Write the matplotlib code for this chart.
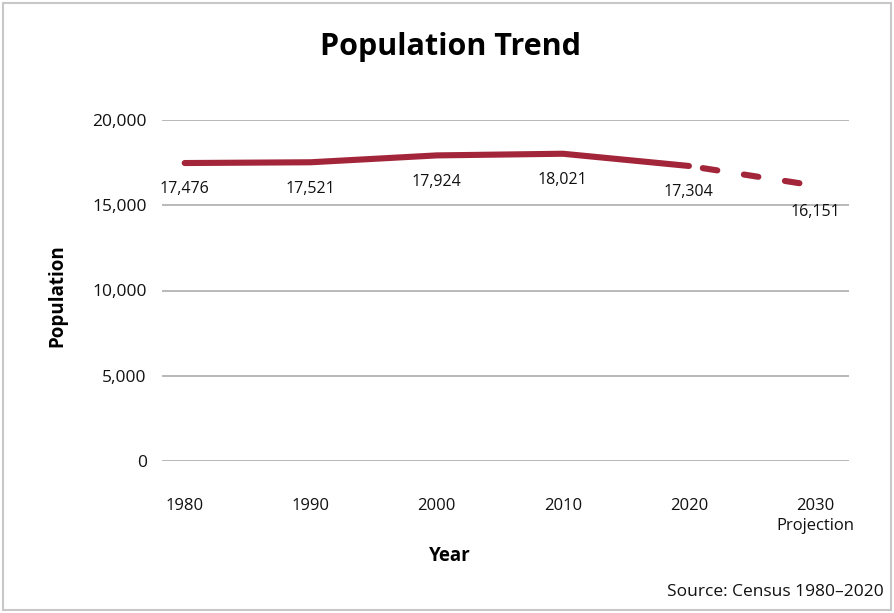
import matplotlib.pyplot as plt
from matplotlib.patches import Rectangle

years = ["1980", "1990", "2000", "2010", "2020", "2030\nProjection"]
population = [17476, 17521, 17924, 18021, 17304, 16151]
labels = ["17,476", "17,521", "17,924", "18,021", "17,304", "16,151"]
yticks = [0, 5000, 10000, 15000, 20000]
yticklabels = ["0", "5,000", "10,000", "15,000", "20,000"]

red = "#a3253a"
plt.rcParams["font.family"] = ["Open Sans", "DejaVu Sans"]

fig = plt.figure(figsize=(8.94, 6.13), dpi=100)
ax = fig.add_axes([162 / 894, 1 - 461 / 613, (849 - 162) / 894, (461 - 120) / 613])

x = list(range(len(years)))
# actual census values, solid
ax.plot(x[:5], population[:5], color=red, lw=4.4, solid_capstyle="round", solid_joinstyle="round", zorder=3)
# projection, dashed
ax.plot(x[4:], population[4:], color=red, lw=4.4, dash_capstyle="round",
        linestyle=(4.5, (2.4, 4.4)), zorder=3)

for xi, v, t in zip(x, population, labels):
    ax.annotate(t, (xi, v), xytext=(0, -19), textcoords="offset points",
                ha="center", va="center", fontsize=11.5, color="#111111")

ax.set_xlim(-0.18, 5.27)
ax.set_ylim(0, 20000)
ax.set_xticks(x)
ax.set_xticklabels(years, fontsize=12, color="#111111", linespacing=1.3)
ax.set_yticks(yticks)
ax.set_yticklabels(yticklabels, fontsize=12.5, color="#111111")
ax.tick_params(axis="both", length=0)
ax.tick_params(axis="x", pad=27)
ax.tick_params(axis="y", pad=11)
ax.grid(axis="y", color="#b3b3b3", lw=1.3)
ax.set_axisbelow(True)
for s in ax.spines.values():
    s.set_visible(False)

fig.text(450 / 894, 1 - 47 / 613, "Population Trend", ha="center", va="center",
         fontsize=22, fontweight="bold")
fig.text(450 / 894, 1 - 556 / 613, "Year", ha="center", va="center",
         fontsize=13.5, fontweight="bold")
fig.text(57 / 894, 1 - 296 / 613, "Population", ha="center", va="center",
         rotation=90, fontsize=13.5, fontweight="bold")
fig.text(884 / 894, 1 - 592 / 613, "Source: Census 1980\u20132020", ha="right", va="center",
         fontsize=12.5, color="#111111")

# page border
fig.patches.append(Rectangle((3 / 894, 3 / 613), 888 / 894, 607 / 613, transform=fig.transFigure,
                             fill=False, edgecolor="#c8c8c8", lw=1.5))

fig.savefig("out.png", dpi=100)
